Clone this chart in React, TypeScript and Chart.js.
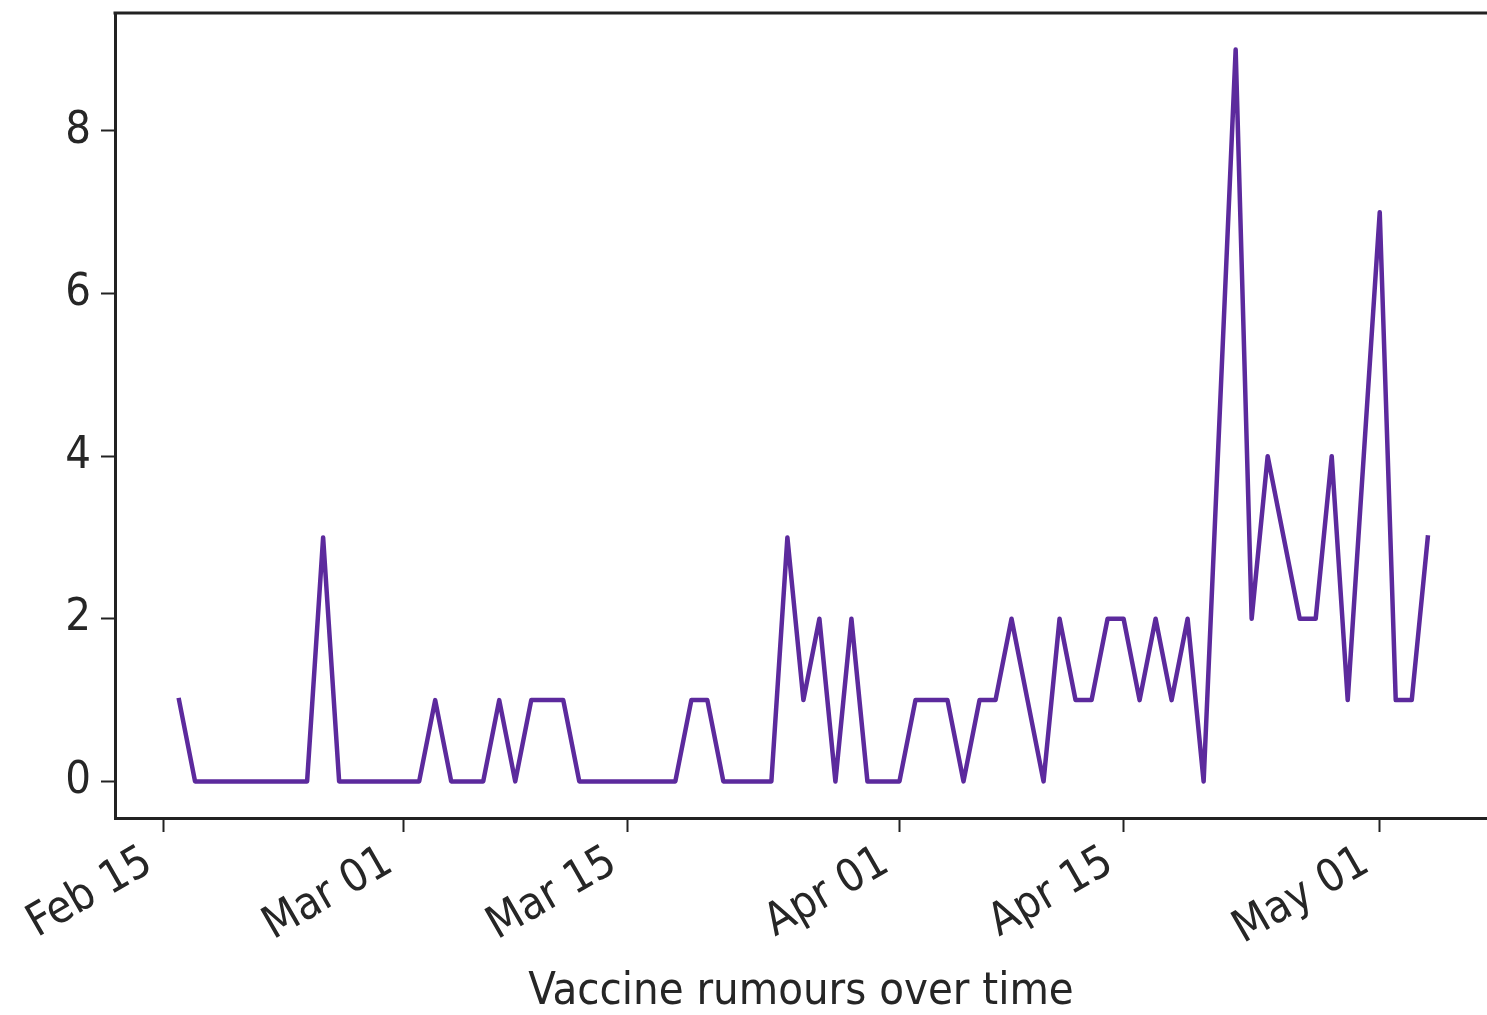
import React, { useEffect, useRef } from "react";
import { Chart, registerables } from "chart.js";

Chart.register(...registerables);

const START_DATE = "2020-02-15";

const dates = [
  "2020-02-16", "2020-02-17", "2020-02-18", "2020-02-19", "2020-02-20", "2020-02-21",
  "2020-02-22", "2020-02-23", "2020-02-24", "2020-02-25", "2020-02-26", "2020-02-27",
  "2020-02-28", "2020-02-29", "2020-03-01", "2020-03-02", "2020-03-03", "2020-03-04",
  "2020-03-05", "2020-03-06", "2020-03-07", "2020-03-08", "2020-03-09", "2020-03-10",
  "2020-03-11", "2020-03-12", "2020-03-13", "2020-03-14", "2020-03-15", "2020-03-16",
  "2020-03-17", "2020-03-18", "2020-03-19", "2020-03-20", "2020-03-21", "2020-03-22",
  "2020-03-23", "2020-03-24", "2020-03-25", "2020-03-26", "2020-03-27", "2020-03-28",
  "2020-03-29", "2020-03-30", "2020-03-31", "2020-04-01", "2020-04-02", "2020-04-03",
  "2020-04-04", "2020-04-05", "2020-04-06", "2020-04-07", "2020-04-08", "2020-04-09",
  "2020-04-10", "2020-04-11", "2020-04-12", "2020-04-13", "2020-04-14", "2020-04-15",
  "2020-04-16", "2020-04-17", "2020-04-18", "2020-04-19", "2020-04-20",
  "2020-04-22", "2020-04-23", "2020-04-24", "2020-04-25", "2020-04-26", "2020-04-27",
  "2020-04-28", "2020-04-29", "2020-04-30", "2020-05-01", "2020-05-02", "2020-05-03",
  "2020-05-04",
];

const counts = [
  1, 0, 0, 0, 0, 0,
  0, 0, 0, 3, 0, 0,
  0, 0, 0, 0, 1, 0,
  0, 0, 1, 0, 1, 1,
  1, 0, 0, 0, 0, 0,
  0, 0, 1, 1, 0, 0,
  0, 0, 3, 1, 2, 0,
  2, 0, 0, 0, 1, 1,
  1, 0, 1, 1, 2, 1,
  0, 2, 1, 1, 2, 2,
  1, 2, 1, 2, 0,
  9, 2, 4, 3, 2, 2,
  4, 1, 4, 7, 1, 1,
  3,
];

const tickDates = ["2020-02-15", "2020-03-01", "2020-03-15", "2020-04-01", "2020-04-15", "2020-05-01"];
const tickLabels = ["Feb 15", "Mar 01", "Mar 15", "Apr 01", "Apr 15", "May 01"];
const yTicks = [0, 2, 4, 6, 8];
const xTitle = "Vaccine rumours over time";

const dayIndex = (d: string) =>
  Math.round((Date.parse(d) - Date.parse(START_DATE)) / 86400000);

const FONT_FAMILY = "'DejaVu Sans Condensed', 'DejaVu Sans', sans-serif";
const TEXT_COLOR = "#262626";
const LINE_COLOR = "#5c2a9d";

const topSpine = {
  id: "topSpine",
  afterDraw(chart: any) {
    const { ctx, chartArea } = chart;
    ctx.save();
    ctx.strokeStyle = "#222222";
    ctx.lineWidth = 3;
    ctx.beginPath();
    ctx.moveTo(chartArea.left - 1.5, chartArea.top);
    ctx.lineTo(chart.width, chartArea.top);
    ctx.stroke();
    ctx.restore();
  },
};

export default function App() {
  const canvasRef = useRef<HTMLCanvasElement | null>(null);

  useEffect(() => {
    document.body.style.margin = "0";
    document.body.style.overflow = "hidden";
    const canvas = canvasRef.current;
    if (!canvas) return;
    const points = dates.map((d, i) => ({ x: dayIndex(d), y: counts[i] }));
    const tickFont = { family: FONT_FAMILY, size: 45 };

    const chart = new Chart(canvas, {
      type: "line",
      data: {
        datasets: [
          {
            data: points,
            borderColor: LINE_COLOR,
            borderWidth: 4.5,
            pointRadius: 0,
            tension: 0,
            fill: false,
            borderJoinStyle: "round",
            borderCapStyle: "square",
          },
        ],
      },
      options: {
        responsive: false,
        animation: false,
        devicePixelRatio: 1,
        layout: { padding: { top: 13, left: 0, right: 0, bottom: 0 } },
        plugins: {
          legend: { display: false },
          tooltip: { enabled: false },
        },
        scales: {
          x: {
            type: "linear",
            min: -3.0,
            max: 82.7,
            afterBuildTicks: (s: any) => {
              s.ticks = tickDates.map((d) => ({ value: dayIndex(d) }));
            },
            afterFit: (s: any) => {
              s.height = 197;
              s.paddingLeft = 0;
              s.paddingRight = 0;
            },
            ticks: {
              autoSkip: false,
              minRotation: 30,
              maxRotation: 30,
              padding: 4,
              labelOffset: -14,
              color: TEXT_COLOR,
              font: tickFont,
              callback: (v: any) => {
                const i = tickDates.findIndex((d) => dayIndex(d) === v);
                return i >= 0 ? tickLabels[i] : "";
              },
            },
            grid: {
              drawOnChartArea: false,
              drawTicks: true,
              tickLength: 14,
              tickWidth: 2,
              tickColor: "#222222",
            },
            border: { display: true, color: "#222222", width: 3 },
            title: {
              display: true,
              text: xTitle,
              color: TEXT_COLOR,
              font: tickFont,
              padding: { top: 0, bottom: -4 },
            },
          },
          y: {
            type: "linear",
            min: -0.45,
            max: 9.45,
            afterBuildTicks: (s: any) => {
              s.ticks = yTicks.map((v) => ({ value: v }));
            },
            afterFit: (s: any) => {
              s.width = 115;
              s.paddingTop = 0;
              s.paddingBottom = 0;
            },
            ticks: {
              padding: 10,
              color: TEXT_COLOR,
              font: tickFont,
              callback: (v: any) => String(v),
            },
            grid: {
              drawOnChartArea: false,
              drawTicks: true,
              tickLength: 14,
              tickWidth: 2,
              tickColor: "#222222",
            },
            border: { display: true, color: "#222222", width: 3 },
          },
        },
      },
      plugins: [topSpine],
    } as any);

    return () => chart.destroy();
  }, []);

  return (
    <div style={{ width: 1487, height: 1015, background: "#ffffff" }}>
      <canvas ref={canvasRef} width={1487} height={1015} style={{ display: "block" }} />
    </div>
  );
}
